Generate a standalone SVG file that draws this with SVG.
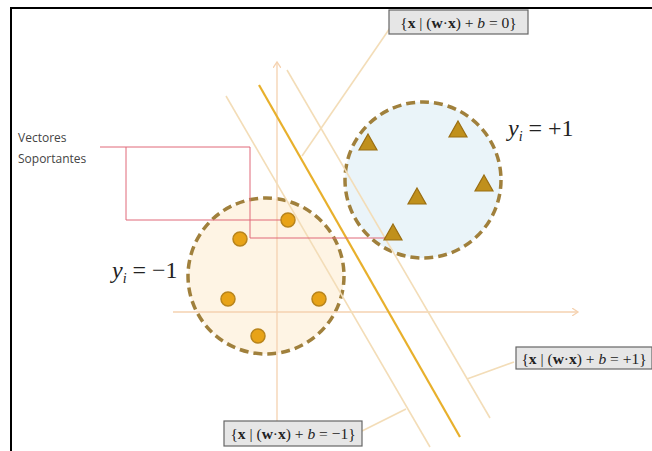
<svg xmlns="http://www.w3.org/2000/svg" width="652" height="451" viewBox="0 0 652 451">
<defs>
<style>
.frame{stroke:#000;stroke-width:2;fill:none}
.cls{stroke:#A0803C;stroke-width:3.5;stroke-dasharray:9 5}
.dot{fill:#E8A317;stroke:#B8841C;stroke-width:1.5}
.tri{fill:#C0901C;stroke:#9A6E12;stroke-width:1.2}
.thin{stroke:#F3DDB8;stroke-width:1.6;fill:none}
.axis{stroke:#F5D2B0;stroke-width:1.3;fill:none}
.call{stroke:#E06878;stroke-width:1;fill:none}
.box{fill:#E6E6E6;stroke:#666;stroke-width:1.2}
.ftx{font-family:"Liberation Serif",serif;font-size:15.5px;fill:#222}
.lbl{font-family:"Liberation Serif",serif;font-size:24px;fill:#222}
.sans{font-family:"Open Sans","Liberation Sans",sans-serif;font-size:12px;fill:#444}
</style>
<marker id="ah" markerWidth="8" markerHeight="8" refX="6" refY="4" orient="auto" markerUnits="userSpaceOnUse">
<path d="M0,0 L6,4 L0,8" fill="none" stroke="#F5D2B0" stroke-width="1.3"/>
</marker>
</defs>
<rect width="652" height="451" fill="#fff"/>
<path class="frame" d="M11,451 V8 H652"/>

<g id="class-neg">
<circle cx="266" cy="276" r="78" fill="#FEF4E4" class="cls"/>
</g>
<g id="class-pos">
<circle cx="423" cy="180" r="78" fill="#EAF4F9" class="cls"/>
</g>

<g id="connectors">
<line class="axis" x1="173" y1="312" x2="578" y2="312" marker-end="url(#ah)"/>
<line class="axis" x1="277" y1="428" x2="277" y2="62" marker-end="url(#ah)"/>
<line class="thin" x1="226" y1="96" x2="430" y2="447"/>
<line class="thin" x1="287" y1="70" x2="490" y2="418"/>
<line x1="259" y1="85" x2="460" y2="437" stroke="#E8B02C" stroke-width="2.2"/>
<line class="thin" x1="390" y1="28" x2="302" y2="156"/>
<line class="thin" x1="514" y1="362" x2="467" y2="379"/>
<line class="thin" x1="362" y1="431" x2="406" y2="409"/>
<path class="call" d="M100,147 H250 V238 H386 M126,147 V220 H282"/>
</g>

<g id="neg-points">
<circle class="dot" cx="240" cy="239" r="7"/>
<circle class="dot" cx="288" cy="220" r="7"/>
<circle class="dot" cx="228" cy="299" r="7"/>
<circle class="dot" cx="319" cy="299" r="7"/>
<circle class="dot" cx="258" cy="336" r="7"/>
</g>
<g id="pos-points">
<path class="tri" d="M368,134 L377,150 L359,150 Z"/>
<path class="tri" d="M458,121 L467,137 L449,137 Z"/>
<path class="tri" d="M484,175 L493,191 L475,191 Z"/>
<path class="tri" d="M417,188 L426,204 L408,204 Z"/>
<path class="tri" d="M393,224 L402,240 L384,240 Z"/>
</g>

<g id="label-neg">
<text class="lbl" x="112" y="278"><tspan font-style="italic">y</tspan><tspan font-style="italic" font-size="14" dy="5">i</tspan><tspan dy="-5"> = −1</tspan></text>
</g>
<g id="label-pos">
<text class="lbl" x="508" y="136"><tspan font-style="italic">y</tspan><tspan font-style="italic" font-size="14" dy="5">i</tspan><tspan dy="-5"> = +1</tspan></text>
</g>
<g id="label-sv">
<text class="sans" x="18" y="142">Vectores</text>
<text class="sans" x="18" y="163">Soportantes</text>
</g>

<g id="eq-zero">
<rect class="box" x="389" y="10" width="139" height="24"/>
<text class="ftx" x="458.5" y="27.5" text-anchor="middle">{<tspan font-weight="bold">x</tspan> | (<tspan font-weight="bold">w</tspan>·<tspan font-weight="bold">x</tspan>) + <tspan font-style="italic">b</tspan> = 0}</text>
</g>
<g id="eq-plus">
<rect class="box" x="516" y="347" width="136" height="22"/>
<text class="ftx" x="584" y="363.5" text-anchor="middle">{<tspan font-weight="bold">x</tspan> | (<tspan font-weight="bold">w</tspan>·<tspan font-weight="bold">x</tspan>) + <tspan font-style="italic">b</tspan> = +1}</text>
</g>
<g id="eq-minus">
<rect class="box" x="224" y="421" width="138" height="25"/>
<text class="ftx" x="293" y="439" text-anchor="middle">{<tspan font-weight="bold">x</tspan> | (<tspan font-weight="bold">w</tspan>·<tspan font-weight="bold">x</tspan>) + <tspan font-style="italic">b</tspan> = −1}</text>
</g>
</svg>
